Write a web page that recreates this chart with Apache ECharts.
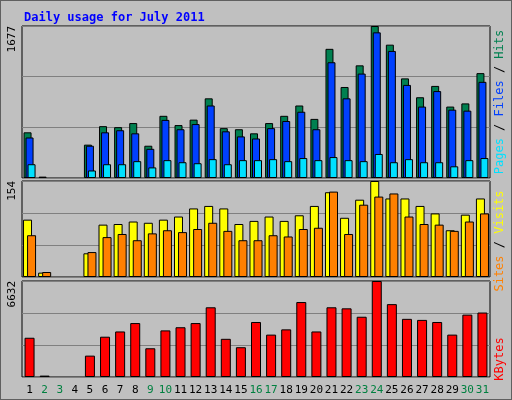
<!DOCTYPE html>
<html><head><meta charset="utf-8">
<script src="https://cdn.jsdelivr.net/npm/echarts@6/dist/echarts.min.js"></script>
<style>html,body{margin:0;padding:0;background:#c0c0c0}#c{width:512px;height:400px;box-sizing:border-box;border:1px solid #606060}</style>
</head><body><div id="c"></div>
<script>
const days = ['1','2','3','4','5','6','7','8','9','10','11','12','13','14','15','16','17','18','19','20','21','22','23','24','25','26','27','28','29','30','31'];
const weekend = ['2','3','9','10','16','17','23','24','30','31'];
const hits =  [504,15,0,0,368,572,561,606,356,686,584,644,879,550,538,493,606,686,800,652,1425,1004,1243,1677,1471,1099,891,1016,788,823,1157];
const files = [447,0,0,0,356,504,527,493,322,641,538,595,800,515,459,436,550,629,731,538,1277,879,1152,1607,1402,1027,788,959,754,743,1061];
const pages = [152,0,0,0,83,152,152,186,117,197,174,163,208,152,197,197,208,186,220,197,231,197,186,265,174,208,174,174,129,197,220];
const sites = [92,7,0,0,38,84,85,89,87,92,97,110,114,110,85,90,97,90,99,114,136,95,124,154,126,126,114,102,75,100,126];
const visits= [67,8,0,0,40,64,69,59,70,75,72,77,87,74,59,59,67,65,77,79,137,69,116,129,134,97,85,84,74,89,102];
const kbytes= [2711,97,0,0,1476,2783,3146,3727,1985,3219,3437,3727,4816,2638,2057,3800,2928,3291,5179,3146,4816,4744,4163,6632,5034,4017,3945,3800,2928,4308,4453];

const F = 'DejaVu Sans Mono';
const maxes = [Math.max(...hits), Math.max(...sites, ...visits), Math.max(...kbytes)];
const grids = [
  {left:21,right:21,top:25,height:152},
  {left:21,right:21,top:180,height:96},
  {left:21,right:21,top:280,height:96}
].map(g=>Object.assign(g,{show:true,backgroundColor:'#c0c0c0',borderColor:'#000',borderWidth:1}));
const xAxis = [0,1,2].map(i=>({type:'category',gridIndex:i,data:days,
  axisLine:{show:false},axisTick:{show:false},
  axisLabel:i<2?{show:false}:{interval:0,fontFamily:F,fontSize:11,margin:8,
    formatter:v=>weekend.includes(v)?'{w|'+v+'}':'{n|'+v+'}',
    rich:{w:{color:'#008040',fontFamily:F,fontSize:11},n:{color:'#000',fontFamily:F,fontSize:11}}}}));
const yAxis = [0,1,2].map(i=>({type:'value',gridIndex:i,min:0,max:maxes[i],interval:maxes[i]/3,
  splitLine:{lineStyle:{color:'#808080',width:1}},axisLine:{show:false},axisTick:{show:false},
  axisLabel:{rotate:90,fontFamily:F,fontSize:11,color:'#000',margin:4,showMinLabel:false,
    formatter:v=>Math.abs(v-maxes[i])<0.5?String(maxes[i]):'' ,verticalAlign:'bottom',align:'right'}}));
const bs = (name,data,color,xi,w,gap)=>({name,type:'bar',data:data.map(v=>v===0?'-':v),xAxisIndex:xi,yAxisIndex:xi,barWidth:w,barGap:gap,
  itemStyle:{color,borderColor:'#000',borderWidth:1},animation:false});
const chart = echarts.init(document.getElementById('c'));
chart.setOption({
  animation:false,
  title:{text:'Daily usage for July 2011',left:18,top:6,textStyle:{fontFamily:F,fontSize:12,fontWeight:'bold',color:'#0000ff'}},
  grid:grids,xAxis,yAxis,
  series:[
    bs('Hits',hits,'#008050',0,8,'-75%'),
    bs('Files',files,'#0040ff',0,8,'-75%'),
    bs('Pages',pages,'#00e0ff',0,8,'-75%'),
    bs('Sites',sites,'#ffff00',1,9,'-55%'),
    bs('Visits',visits,'#ff8000',1,9,'-55%'),
    bs('KBytes',kbytes,'#ff0000',2,10,'0%')
  ],
  graphic:[
    {type:'text',x:499,y:101,rotation:Math.PI/2,style:{text:'{p|Pages}{s| / }{f|Files}{s| / }{h|Hits}',align:'center',verticalAlign:'middle',
      rich:{p:{fill:'#00e0ff',fontFamily:F,fontSize:12},f:{fill:'#0040ff',fontFamily:F,fontSize:12},h:{fill:'#008050',fontFamily:F,fontSize:12},s:{fill:'#000',fontFamily:F,fontSize:12}}}},
    {type:'text',x:499,y:240,rotation:Math.PI/2,style:{text:'{a|Sites}{s| / }{b|Visits}',align:'center',verticalAlign:'middle',
      rich:{a:{fill:'#ff8000',fontFamily:F,fontSize:12},b:{fill:'#ffff00',fontFamily:F,fontSize:12},s:{fill:'#000',fontFamily:F,fontSize:12}}}},
    {type:'text',x:499,y:358,rotation:Math.PI/2,style:{text:'KBytes',fill:'#ff0000',fontFamily:F,fontSize:12,align:'center',verticalAlign:'middle'}}
  ]
});
</script></body></html>
